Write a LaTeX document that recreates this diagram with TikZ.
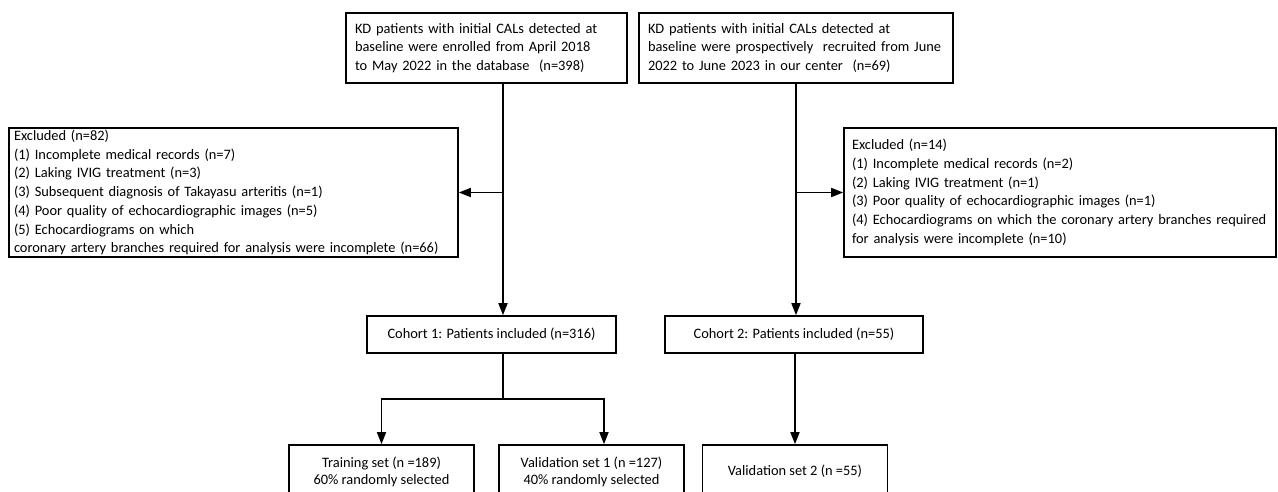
\documentclass[tikz,border=0pt]{standalone}
\usepackage{fontspec}
\setmainfont{Carlito}
\usetikzlibrary{arrows.meta}
\usetikzlibrary{positioning}

\tikzset{
  flowbox/.style={draw, line width=1.6pt, inner sep=0pt, font=\fontsize{14.4}{18.7}\selectfont},
  leftbox/.style={flowbox, align=left},
  midbox/.style={flowbox, align=center},
  setbox/.style={midbox, minimum width=185pt, minimum height=53pt, font=\fontsize{14.4}{17}\selectfont},
  flowline/.style={line width=1.6pt},
  flowarrow/.style={flowline, -{Triangle[length=12pt,width=9pt]}}
}

\begin{document}
\begin{tikzpicture}[x=1pt,y=-1pt]
        \useasboundingbox (0,0) rectangle (1278,492);

        \node[leftbox, inner xsep=9pt, text width=263pt, minimum height=70pt] (src1) at (486.5,48)
            {KD patients with initial CALs detected at\\ baseline were enrolled from April 2018\\ to May 2022 in the database\ \ (n=398)};
        \node[leftbox, inner xsep=9pt, text width=296pt, minimum height=70pt] (src2) at (796,48)
            {KD patients with initial CALs detected at\\ baseline were prospectively\ \ recruited from June\\ 2022 to June 2023 in our center\ \ (n=69)};

        \node[leftbox, inner xsep=5pt, text width=439pt, minimum height=129pt] (exc1) at (233.5,192.5)
            {Excluded (n=82)\\ (1) Incomplete medical records (n=7)\\ (2) Laking IVIG treatment (n=3)\\
             (3) Subsequent diagnosis of Takayasu arteritis (n=1)\\ (4) Poor quality of echocardiographic images (n=5)\\
             (5) Echocardiograms on which\\ coronary artery branches required for analysis were incomplete (n=66)};
        \node[leftbox, inner xsep=8pt, text width=416pt, minimum height=129pt] (exc2) at (1060,192.5)
            {Excluded (n=14)\\ (1) Incomplete medical records (n=2)\\ (2) Laking IVIG treatment (n=1)\\
             (3) Poor quality of echocardiographic images (n=1)\\
             (4) Echocardiograms on which the coronary artery branches required\\ for analysis were incomplete (n=10)};

        \node[midbox, minimum width=249pt, minimum height=37pt] (coh1) at (491.5,334.5) {Cohort 1: Patients included (n=316)};
        \node[midbox, minimum width=258pt, minimum height=37pt] (coh2) at (794,334.5) {Cohort 2: Patients included (n=55)};

        \node[setbox] (train) at (381.5,471.5) {Training set (n =189)\\ 60\% randomly selected};
        \node[setbox] (val1) at (591.5,471.5) {Validation set 1 (n =127)\\ 40\% randomly selected};
        \node[setbox] (val2) at (795,471.5) {Validation set 2 (n =55)};

        \coordinate (spine1) at (503,0);
        \coordinate (fork1) at (503,399);

        \draw[flowarrow] (src1.south -| spine1) -- (coh1.north -| spine1);
        \draw[flowarrow] (spine1 |- exc1.east) -- (exc1.east);
        \draw[flowarrow] (src2.south) -- (src2.south |- coh2.north);
        \draw[flowarrow] (src2.south |- exc2.west) -- (exc2.west);
        \draw[flowline] (coh1.south -| fork1) -- (fork1);
        \draw[flowarrow] (fork1) -| (train.north);
        \draw[flowarrow] (fork1) -| ([xshift=12.5pt]val1.north);
        \draw[flowarrow] (coh2.south -| val2.north) -- (val2.north);
    \end{tikzpicture}
\end{document}
